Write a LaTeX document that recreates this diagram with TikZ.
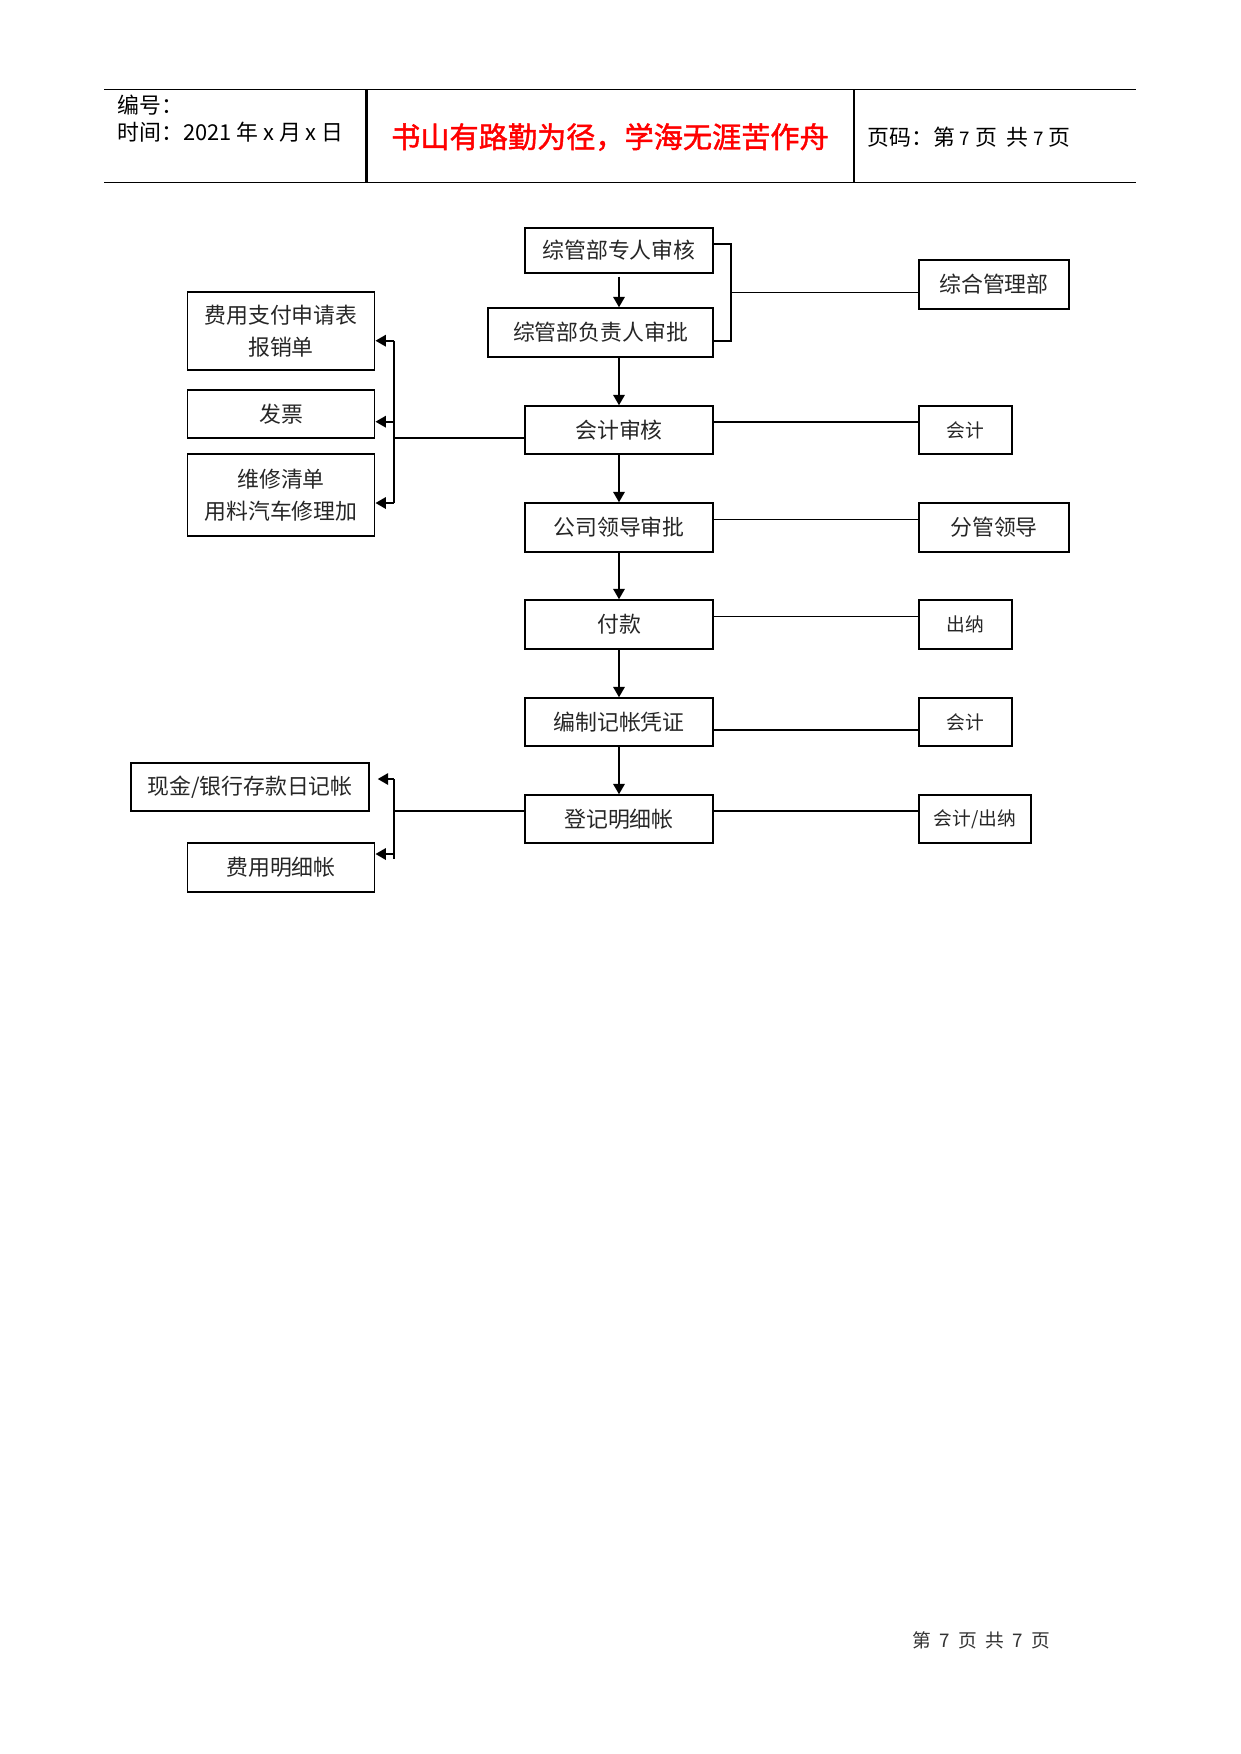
\documentclass[tikz,border=0pt]{standalone}
\usepackage{fontspec}
\setmainfont{Noto Sans CJK SC}
\newfontfamily\titlefont[FakeBold=1.5]{Noto Sans CJK SC}
\usetikzlibrary{arrows.meta,calc}
\begin{document}
\begin{tikzpicture}[x=0.48pt,y=-0.48pt,
  box/.style={draw, line width=0.7pt, inner sep=0pt, align=center, text=black!85,
              font=\fontsize{10.5}{15.5}\selectfont},
  sbox/.style={box, font=\fontsize{9}{11}\selectfont},
  wh/.style 2 args={minimum width=#1*0.48pt, minimum height=#2*0.48pt},
  arr/.style={line width=0.9pt, -{Triangle[length=5pt,width=5.5pt]}},
  thk/.style={line width=0.9pt},
  thn/.style={line width=0.5pt},
  htext/.style={font=\fontsize{10.5}{12}\selectfont, inner sep=0pt}]
\useasboundingbox (0,0) rectangle (1241,1754);

% header table
\draw[line width=0.8pt] (104,89.5) -- (1136,89.5);
\draw[line width=0.8pt] (104,182.5) -- (1136,182.5);
\draw[line width=1pt] (366.5,89.5) -- (366.5,182.5);
\draw[line width=0.5pt] (854,89.5) -- (854,182.5);
\node[htext, anchor=west] (hno) at (117,105) {编号：};
\node[htext, anchor=west] (htime) at (117,132) {时间：2021 年 x 月 x 日};
\node[inner sep=0pt, text=red, font=\titlefont\fontsize{14}{16}\selectfont] (title) at (610,137) {书山有路勤为径，学海无涯苦作舟};
\node[htext, anchor=west] (hpage) at (867,137) {页码：第 {\fontsize{9}{10}\selectfont 7} 页\ \ 共 {\fontsize{9}{10}\selectfont 7} 页};

% center column
\node[box, wh={188}{45}] (n1) at (619,250.5) {综管部专人审核};
\node[box, wh={225}{49}] (n2) at (600.5,332.5) {综管部负责人审批};
\node[box, wh={188}{48}] (n3) at (619,430) {会计审核};
\node[box, wh={188}{49}] (n4) at (619,527.5) {公司领导审批};
\node[box, wh={188}{49}] (n5) at (619,624.5) {付款};
\node[box, wh={188}{48}] (n6) at (619,722) {编制记帐凭证};
\node[box, wh={188}{48}] (n7) at (619,819) {登记明细帐};

% right column
\node[box, wh={150}{49}] (r1) at (994,284.5) {综合管理部};
\node[sbox, wh={93}{48}] (r2) at (965.5,430) {会计};
\node[box, wh={150}{49}] (r3) at (994,527.5) {分管领导};
\node[sbox, wh={93}{49}] (r4) at (965.5,624.5) {出纳};
\node[sbox, wh={93}{48}] (r5) at (965.5,722) {会计};
\node[sbox, wh={112}{48}] (r6) at (975,819) {会计/出纳};

% left column
\node[box, wh={187.5}{78}] (l1) at (281,331) {费用支付申请表\\报销单};
\node[box, wh={187.5}{48}] (l2) at (281,414) {发票};
\node[box, wh={187.5}{82}] (l3) at (281,495) {维修清单\\用料汽车修理加};
\node[box, wh={238}{48}] (l4) at (250,787) {现金/银行存款日记帐};
\node[box, wh={187.5}{49}] (l5) at (281,867.5) {费用明细帐};

% footer
\node[inner sep=0pt, text=black!80, font=\fontsize{9}{10}\selectfont] (foot) at (981,1640) {第\ \ 7\ \ 页\ \ 共\ \ 7\ \ 页};

% center arrows
\draw[arr] ($(n1.south)+(0,3)$) -- (n1.south |- n2.north);
\draw[arr] (n1.south |- n2.south) -- (n3.north);
\draw[arr] (n3.south) -- (n4.north);
\draw[arr] (n4.south) -- (n5.north);
\draw[arr] (n5.south) -- (n6.north);
\draw[arr] (n6.south) -- (n7.north);

% bracket to 综合管理部
\coordinate (bkA) at (731,244);
\coordinate (bkB) at (731,341);
\coordinate (bkM) at (731,292.3);
\draw[thk] (bkA -| n1.east) -- (bkA) -- (bkB) -- (bkB -| n2.east);
\draw[thn] (bkM) -- (bkM -| r1.west);

% right connectors
\coordinate (c3) at (0,421.7);
\coordinate (c4) at (0,519.3);
\coordinate (c5) at (0,616.3);
\coordinate (c6) at (0,730);
\coordinate (c7) at (0,810.7);
\draw[thk] (c3 -| n3.east) -- (c3 -| r2.west);
\draw[thn] (c4 -| n4.east) -- (c4 -| r3.west);
\draw[thn] (c5 -| n5.east) -- (c5 -| r4.west);
\draw[thk] (c6 -| n6.east) -- (c6 -| r5.west);
\draw[thk] (c7 -| n7.east) -- (c7 -| r6.west);

% left upper group
\coordinate (L0) at (394,438);
\coordinate (La) at (394,340.7);
\coordinate (Lb) at (394,421.7);
\coordinate (Lc) at (394,503);
\draw[thn] (L0 -| n3.west) -- (L0);
\draw[thk] (La) -- (Lc);
\draw[arr] (La) -- (La -| l1.east);
\draw[arr] (Lb) -- (Lb -| l2.east);
\draw[arr] (Lc) -- (Lc -| l3.east);

% left lower group
\coordinate (M0) at (394,810.7);
\coordinate (Ma) at (394,779);
\coordinate (Mb) at (394,854);
\coordinate (Mc) at (394,859);
\draw[thk] (M0 -| n7.west) -- (M0);
\draw[thk] (Ma) -- (Mc);
\draw[arr] (Ma) -- ($(Ma -| l4.east)+(8,0)$);
\draw[arr] (Mb) -- (Mb -| l5.east);
\end{tikzpicture}
\end{document}
